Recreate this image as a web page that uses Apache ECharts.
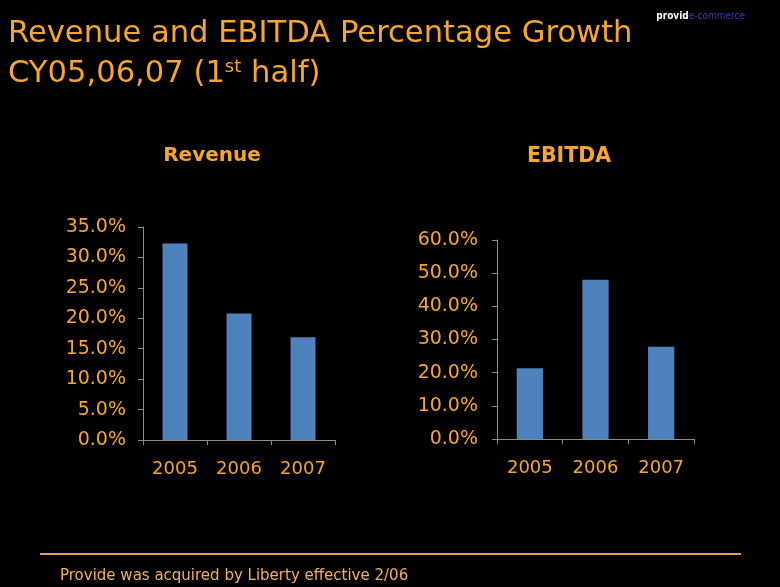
<!DOCTYPE html>
<html><head><meta charset="utf-8">
<script src="https://cdn.jsdelivr.net/npm/echarts@6/dist/echarts.min.js"></script>
<style>html,body{margin:0;padding:0;background:#000;}#c{width:780px;height:587px;}</style>
</head><body><div id="c"></div>
<script>
const categories = ['2005', '2006', '2007'];
const revenueGrowth = [32.3, 20.8, 16.9];
const ebitdaGrowth = [21.3, 48.0, 27.8];
const revenueTicks = { min: 0, max: 35, interval: 5 };
const ebitdaTicks = { min: 0, max: 60, interval: 10 };

const FONT = "'DejaVu Sans', sans-serif";
const CFONT = "'DejaVu Sans Condensed', 'DejaVu Sans', sans-serif";
const ORANGE = '#F5A531';
const chart = echarts.init(document.getElementById('c'));
function xAx(gi) {
  return {
    type: 'category', gridIndex: gi, data: categories,
    axisLine: { lineStyle: { color: '#8c8c8c', width: 1 } },
    axisTick: { show: true, length: 5, lineStyle: { color: '#8c8c8c' } },
    axisLabel: { color: ORANGE, fontFamily: FONT, fontSize: 18, margin: 20 }
  };
}
function yAx(gi, t, m) {
  return {
    type: 'value', gridIndex: gi, min: t.min, max: t.max, interval: t.interval,
    axisLine: { show: true, lineStyle: { color: '#8c8c8c', width: 1 } },
    axisTick: { show: true, length: 5, lineStyle: { color: '#8c8c8c' } },
    splitLine: { show: false },
    axisLabel: { color: ORANGE, fontFamily: FONT, fontSize: 19, margin: m,
      formatter: v => v.toFixed(1) + '%' }
  };
}
chart.setOption({
  backgroundColor: '#000',
  animation: false,
  title: [
    { text: 'Revenue and EBITDA Percentage Growth', left: 8, top: 19, padding: 0,
      textStyle: { color: ORANGE, fontFamily: FONT, fontSize: 30.6, fontWeight: 'normal' } },
    { text: '{a|CY05,06,07 (1}{s|st}{a| half)}', left: 8, top: 58, padding: 0,
      textStyle: { fontWeight: 'normal', rich: {
        a: { color: ORANGE, fontFamily: FONT, fontSize: 30.6, fontWeight: 'normal' },
        s: { color: ORANGE, fontFamily: FONT, fontSize: 18, fontWeight: 'normal', verticalAlign: 'top', padding: [0,0,14,0] } } } },
    { text: 'Revenue', left: 212, top: 146, textAlign: 'center', padding: 0,
      textStyle: { color: ORANGE, fontFamily: FONT, fontSize: 20, fontWeight: 'bold' } },
    { text: 'EBITDA', left: 569, top: 146, textAlign: 'center', padding: 0,
      textStyle: { color: ORANGE, fontFamily: FONT, fontSize: 20.5, fontWeight: 'bold' } },
    { text: '{b|provid}{c|e-commerce}', right: 35, top: 11, padding: 0,
      textStyle: { rich: {
        b: { color: '#fff', fontFamily: CFONT, fontSize: 10, fontWeight: 'bold' },
        c: { color: '#3a3ab0', fontFamily: CFONT, fontSize: 10, fontWeight: 'normal' } } } },
    { text: 'Provide was acquired by Liberty effective 2/06', left: 60, top: 569, padding: 0,
      textStyle: { color: '#F0B060', fontFamily: FONT, fontSize: 15, fontWeight: 'normal' } }
  ],
  grid: [
    { left: 143, top: 227, width: 192, height: 213 },
    { left: 497, top: 240, width: 197, height: 199 }
  ],
  xAxis: [xAx(0), xAx(1)],
  yAxis: [yAx(0, revenueTicks, 17), yAx(1, ebitdaTicks, 19)],
  series: [
    { type: 'bar', xAxisIndex: 0, yAxisIndex: 0, data: revenueGrowth, barWidth: '39%',
      itemStyle: { color: '#4F81BD' } },
    { type: 'bar', xAxisIndex: 1, yAxisIndex: 1, data: ebitdaGrowth, barWidth: '40%',
      itemStyle: { color: '#4F81BD' } }
  ],
  graphic: [
    { type: 'line', shape: { x1: 40, y1: 554, x2: 741, y2: 554 },
      style: { stroke: '#D9A050', lineWidth: 2 } }
  ]
});
</script></body></html>
